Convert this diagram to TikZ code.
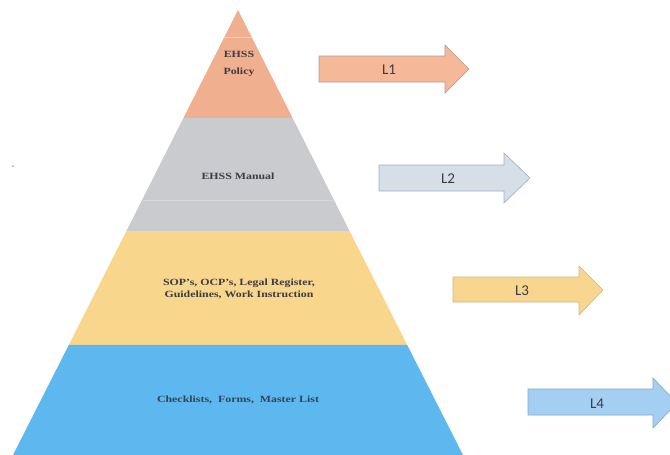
\documentclass[tikz,border=0pt]{standalone}
\usepackage{fontspec}
\setmainfont{Liberation Serif}
\newfontfamily\lblfont{Carlito}
\definecolor{porange}{HTML}{F0AF8F}
\definecolor{pgray}{HTML}{C9CBCF}
\definecolor{pyellow}{HTML}{F8D68C}
\definecolor{pblue}{HTML}{5CB8EF}
\definecolor{ptext}{HTML}{3C3C44}
\definecolor{ptextb}{HTML}{34435A}
\definecolor{pline}{HTML}{F7CF9A}
\definecolor{aorange}{HTML}{F5B898}
\definecolor{aorangeb}{HTML}{B09C94}
\definecolor{agray}{HTML}{D6DEE8}
\definecolor{agrayb}{HTML}{9DB0C6}
\definecolor{ayellow}{HTML}{F9D690}
\definecolor{ayellowb}{HTML}{CDB68C}
\definecolor{ablue}{HTML}{A5CFF2}
\definecolor{ablueb}{HTML}{7FA9D0}
\tikzset{
  layertext/.style={font=\fontsize{9.5}{12}\selectfont\bfseries, text=ptext, align=center, xscale=1.25, inner sep=0pt},
  arrowlabel/.style={font=\lblfont\fontsize{15}{15}\selectfont, text=ptext, inner sep=0pt},
  arrowshape/.style={line width=0.6pt, line join=miter}
}
\begin{document}
\begin{tikzpicture}[x=1pt,y=-1pt]
\useasboundingbox (0,0) rectangle (670,455);
\clip (0,0) rectangle (670,455);
\fill[white] (0,0) rectangle (670,455);
% pyramid layers: edge x(y) = 238 -/+ 0.5056*(y-10)
\fill[porange] (238,10) -- (292.6,118) -- (183.4,118) -- cycle;
\fill[pgray] (183.4,118) -- (292.6,118) -- (349.8,231.5) -- (126.2,231.5) -- cycle;
\fill[pyellow] (126.2,231.5) -- (349.8,231.5) -- (407.1,344.8) -- (68.9,344.8) -- cycle;
\fill[pblue] (68.9,344.8) -- (407.1,344.8) -- (463,455) -- (13,455) -- cycle;
% faint scan lines
\draw[draw=pline, line width=0.8pt] (224.4,37) -- (251.6,37);
\draw[draw=white, opacity=0.25, line width=0.5pt] (142.5,200) -- (333.5,200);
\fill[gray!70] (13,166) circle (1);
% layer texts
\node[layertext] (t1) at (239,64) {EHSS\\[5pt]Policy};
\node[layertext] (t2) at (238,176) {EHSS Manual};
\node[layertext] (t3) at (239,289) {SOP's, OCP's, Legal Register,\\Guidelines, Work Instruction};
\node[layertext, text=ptextb] (t4) at (238,400) {Checklists,\ \ Forms,\ \ Master List};
% arrows
\filldraw[arrowshape, fill=aorange, draw=aorangeb] (319,56) -- (445,56) -- (445,45) -- (469,69) -- (445,93) -- (445,82) -- (319,82) -- cycle;
\node[arrowlabel] (l1) at (389,70) {L1};
\filldraw[arrowshape, fill=agray, draw=agrayb] (379,165) -- (504,165) -- (504,153) -- (530,178) -- (504,203) -- (504,191) -- (379,191) -- cycle;
\node[arrowlabel] (l2) at (448,179) {L2};
\filldraw[arrowshape, fill=ayellow, draw=ayellowb] (453,277) -- (579,277) -- (579,266) -- (603,290) -- (579,315) -- (579,302) -- (453,302) -- cycle;
\node[arrowlabel] (l3) at (522,291) {L3};
\filldraw[arrowshape, fill=ablue, draw=ablueb] (528,389) -- (653,389) -- (653,378) -- (677,403) -- (653,428) -- (653,415) -- (528,415) -- cycle;
\node[arrowlabel] (l4) at (597,404) {L4};
\end{tikzpicture}
\end{document}
